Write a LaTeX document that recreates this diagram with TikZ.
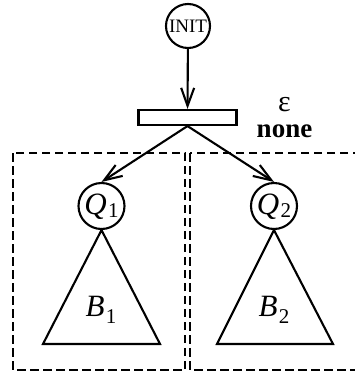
\documentclass[tikz,border=0pt]{standalone}
\usepackage{fontspec}
\setmainfont{Liberation Serif}
\usetikzlibrary{arrows.meta}
\newcommand{\labsub}[3]{{\itshape #1}\kern1.5pt\raisebox{#3}{\fontsize{21}{21}\selectfont #2}}
\begin{document}
\begin{tikzpicture}[x=1pt,y=-1pt,
  state/.style={circle,draw,line width=2.1pt,inner sep=0pt},
  bar/.style={rectangle,draw,line width=2.1pt,inner sep=0pt,minimum width=98pt,minimum height=15pt},
  edge/.style={line width=2.1pt,-{Straight Barb[length=18pt,width=13pt,line width=2.1pt]}},
  tri/.style={draw,line width=2.1pt,line join=miter},
  region/.style={draw,line width=2.4pt,dash pattern=on 8.5pt off 4.5pt},
  lab/.style={inner sep=0pt,font=\fontsize{31}{31}\selectfont}]
\useasboundingbox (0,0) rectangle (355,378);
% states
\node[state,minimum size=44pt,font=\fontsize{19}{19}\selectfont] (init) at (188,26) {INIT};
\node[bar] (t) at (187.5,117.5) {};
\node[state,minimum size=46pt] (q1) at (101.5,206) {};
\node[state,minimum size=46pt] (q2) at (274,206) {};
\node[lab] (q1l) at (101.5,207) {\labsub{Q}{1}{-3pt}};
\node[lab] (q2l) at (274,207) {\labsub{Q}{2}{-3pt}};
% labels
\node[inner sep=0pt,font=\fontsize{30}{30}\selectfont] (eps) at (284.5,105) {ε};
\node[inner sep=0pt,font=\fontsize{27}{27}\selectfont\bfseries] (none) at (284.5,131) {none};
% edges
\draw[edge] (init) -- (t);
\draw[edge] (t.south) -- (q1.north);
\draw[edge] (t.south) -- (q2.north);
% triangles
\coordinate (b1l) at (43,344);
\coordinate (b1r) at (160,344);
\coordinate (b2l) at (217,344);
\coordinate (b2r) at (333,344);
\draw[tri] (q1.south) -- (b1r) -- (b1l) -- cycle;
\draw[tri] (q2.south) -- (b2r) -- (b2l) -- cycle;
\node[lab] (b1) at (101,310) {\labsub{B}{1}{-7pt}};
\node[lab] (b2) at (274,310) {\labsub{B}{2}{-7pt}};
% regions
\draw[region] (13,153) rectangle (185,370);
\draw[region] (190,153) rectangle (364,370);
\end{tikzpicture}
\end{document}
